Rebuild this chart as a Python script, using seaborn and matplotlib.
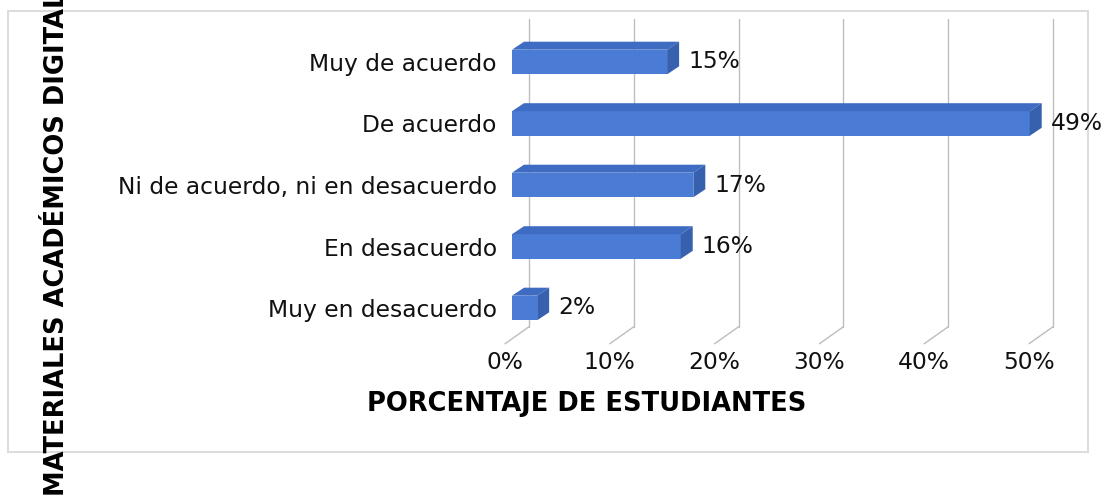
import matplotlib
matplotlib.use('Agg')
import matplotlib.pyplot as plt
import matplotlib.transforms as mtransforms
from matplotlib.patches import Polygon, Rectangle
import pandas as pd
import seaborn as sns

# ── Data ──────────────────────────────────────────────────────────
categories = ['Muy de acuerdo', 'De acuerdo', 'Ni de acuerdo, ni en desacuerdo',
              'En desacuerdo', 'Muy en desacuerdo']
percent = [14.8, 49.4, 17.3, 16.1, 2.4]
x_ticks = [0, 10, 20, 30, 40, 50]
x_title = 'PORCENTAJE DE ESTUDIANTES'
y_title = 'MATERIALES ACADÉMICOS DIGITALES'

df = pd.DataFrame({'cat': categories, 'pct': percent})

# ── Style ─────────────────────────────────────────────────────────
sns.set_style('white')
plt.rcParams['font.family'] = ['DejaVu Sans']

W, H = 1105, 500
FRONT, TOP, SIDE = '#4a7cd6', '#3e6cc2', '#3760ae'
GRID = '#bdbdbd'
FS = 16.8

fig = plt.figure(figsize=(W / 100, H / 100), dpi=100)
# axes = front plane of the bars (pixel coords from the reference)
ax_l, ax_r, ax_t, ax_b = 512, 1036, 31.25, 338.75
ax = fig.add_axes([ax_l / W, 1 - ax_b / H, (ax_r - ax_l) / W, (ax_b - ax_t) / H])

sns.barplot(data=df, x='pct', y='cat', orient='h', color=FRONT,
            width=0.4, saturation=1, ax=ax, zorder=3)
ax.set_xlim(0, 50)
ax.set_ylim(4.5, -0.5)
for s in ax.spines.values():
    s.set_visible(False)
ax.set_xticks([])
ax.tick_params(axis='y', length=0, pad=11, labelsize=FS, labelcolor='#111111')
ax.set_xlabel(''); ax.set_ylabel('')

px_x = (ax_r - ax_l) / 50.0      # pixels per percent
px_y = (ax_b - ax_t) / 5.0       # pixels per category step

# ── Gridlines (back wall + floor diagonals) ──────────────────────
back = mtransforms.offset_copy(ax.transData, fig=fig, x=17, y=12, units='dots')
for t in x_ticks:
    ax.plot([t, t], [4.5, -0.5], color=GRID, lw=1, transform=back,
            zorder=1, clip_on=False)
    x0 = t - 7 / px_x; y0 = 4.5 + 5 / px_y
    x1 = t + 17 / px_x; y1 = 4.5 - 12 / px_y
    ax.plot([x0, x1], [y0, y1], color=GRID, lw=1, zorder=1, clip_on=False)

# ── 3D faces of the bars ──────────────────────────────────────────
ddx, ddy = 12 / px_x, -8 / px_y
for p in ax.patches:
    x0, y0 = p.get_x(), p.get_y()
    w, h = p.get_width(), p.get_height()
    ytop, ybot = y0, y0 + h
    top = [(x0, ytop), (x0 + w, ytop), (x0 + w + ddx, ytop + ddy), (x0 + ddx, ytop + ddy)]
    side = [(x0 + w, ytop), (x0 + w + ddx, ytop + ddy),
            (x0 + w + ddx, ybot + ddy), (x0 + w, ybot)]
    ax.add_patch(Polygon(top, closed=True, fc=TOP, ec='none', zorder=3, clip_on=False))
    ax.add_patch(Polygon(side, closed=True, fc=SIDE, ec='none', zorder=3, clip_on=False))
    p.set_edgecolor('none')

# ── Value labels ──────────────────────────────────────────────────
for i, v in enumerate(percent):
    ax.text(v + 21 / px_x, i, f'{round(v)}%', va='center', ha='left',
            fontsize=FS, color='#111111', clip_on=False)

# ── Tick labels (front floor edge) ────────────────────────────────
blend = mtransforms.blended_transform_factory(ax.transData, ax.transAxes)
tick_tr = mtransforms.offset_copy(blend, fig=fig, x=-7, y=0, units='dots')
for t in x_ticks:
    ax.text(t, -23.5 / (ax_b - ax_t), f'{t}%', transform=tick_tr,
            ha='center', va='center', fontsize=FS, color='#111111')

# ── Axis titles ───────────────────────────────────────────────────
fig.text(587 / W, 1 - 404 / H, x_title, ha='center', va='center',
         fontsize=18.5, fontweight='bold', color='#000000')
# the reference clips this title at the top edge of the image
fig.text(57 / W, 1 - 226 / H, y_title, ha='center', va='center', rotation=90,
         fontsize=18.5, fontweight='bold', color='#000000')

# ── Outer chart border ────────────────────────────────────────────
fig.add_artist(Rectangle((8 / W, 1 - 452 / H), (1088 - 8) / W, (452 - 11) / H,
                         transform=fig.transFigure, fill=False,
                         ec='#d9d9d9', lw=1.3, zorder=0))

plt.savefig('out.png', dpi=100)
